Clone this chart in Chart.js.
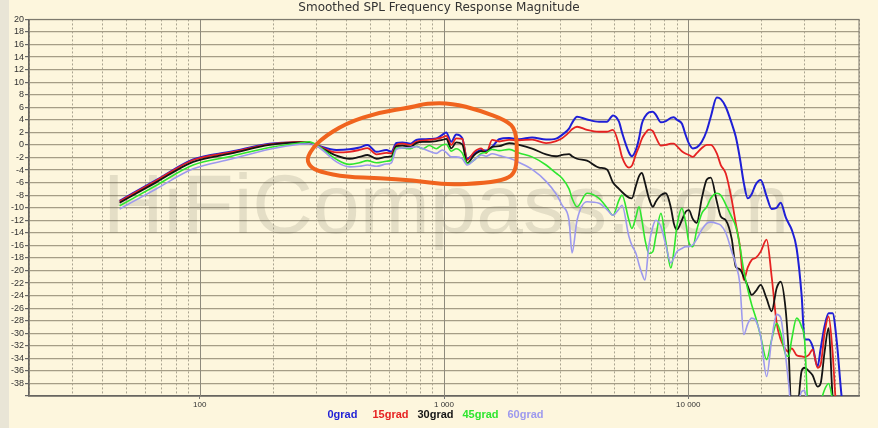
<!DOCTYPE html>
<html>
<head>
<meta charset="utf-8">
<title>Smoothed SPL Frequency Response Magnitude</title>
<script src="https://cdn.jsdelivr.net/npm/chart.js@4.4.1/dist/chart.umd.min.js"></script>
<style>
  html, body { margin: 0; padding: 0; background: #fdf6dd; }
  #wrap { width: 878px; height: 428px; }
</style>
</head>
<body>
<div id="wrap"><canvas id="splChart" width="878" height="428"></canvas></div>
<script>
// frequency points (Hz), shared by the five off-axis measurements
const freqHz = [
    47, 66, 94, 135, 193, 256, 281, 303, 363, 410, 451, 486,
    529, 581, 609, 638, 676, 730, 770, 820, 871, 930,
    984, 1021, 1071, 1122, 1188, 1245, 1330, 1420, 1488, 1575,
    1682, 1848, 2030, 2294, 2618, 2876, 3044, 3250, 3344, 3505,
    3850, 4312, 4648, 4918, 5204, 5353, 5716, 5878, 6104, 6282,
    6461, 6646, 6900, 7163, 7370, 7727, 8098, 8489, 8730, 8981,
    9412, 9774, 10056, 10440, 10840, 11362, 11911, 12366, 13087, 13588,
    14243, 15071, 15650, 16250, 16870, 17520, 18193, 18890, 19794, 20930,
    21951, 23014, 23894, 25050, 25760, 26504, 27776, 29120, 29940, 31100,
    32280, 33838, 34820, 36140, 37540, 38980, 40470, 42420, 44060
];

// SPL in dB per angle
const spl0 = [
    -8.9, -5.65, -2.3, -1.05, 0.2, 0.4, 0.3, -0.1, -0.8, -0.7, -0.4, 0.0,
    -1.1, -0.8, -1.1, 0.3, 0.4, 0.2, 0.8, 0.9, 0.95, 1.05,
    1.6, 2.0, 0.5, 1.65, 1.05, -2.2, -1.35, -0.8, -0.9, -0.3,
    0.9, 1.1, 0.9, 1.2, 0.85, 1.0, 1.6, 2.6, 3.5, 4.5,
    4.05, 3.7, 3.7, 4.7, 3.7, 2.0, -1.2, -1.8, -0.8, 1.0,
    3.4, 4.5, 5.2, 5.3, 4.8, 3.6, 3.8, 4.3, 4.4, 4.0,
    3.4, 1.5, 0.25, -0.55, -0.4, 0.5, 2.3, 4.5, 7.55, 7.3,
    6.05, 3.4, 1.3, -2.0, -6.0, -8.5, -7.8, -6.3, -5.6, -8.2,
    -10.2, -10.0, -9.2, -11.5, -12.5, -13.5, -16.5, -24, -31, -31.0,
    -32.1, -35.3, -32.5, -28.9, -26.8, -26.8, -31, -40, -45
];
const spl15 = [
    -9.0, -5.75, -2.4, -1.15, 0.1, 0.5, 0.4, -0.1, -1.2, -1.1, -0.8, -0.5,
    -1.5, -1.25, -1.35, 0.0, 0.2, 0.0, 0.5, 0.7, 0.8, 0.95,
    1.2, 1.45, 0.0, 1.05, 0.95, -2.4, -1.1, -0.55, -1.3, 0.8,
    0.55, 0.8, 0.75, 0.85, 0.3, 0.6, 1.05, 2.0, 2.5, 2.9,
    2.4, 2.1, 2.1, 2.4, 0.0, -1.9, -3.6, -3.3, -1.5, -0.3,
    1.0, 1.8, 2.45, 2.2, 1.2, -0.1, 0.0, 0.2, 0.2, -0.2,
    -1.0, -1.4, -1.6, -1.9, -1.3, -0.5, 0.0, 0.0, -1.35, -3.2,
    -4.55, -8.8, -12.5, -16.0, -21.5, -19.5, -18.3, -18.0, -17.0, -15.1,
    -21.0, -28.4, -31.0, -32.6, -33.0, -32.4, -33.5, -33.7, -33.8, -33.5,
    -32.6, -35.5, -35, -30, -27.3, -33, -42, -43, -45
];
const spl30 = [
    -9.2, -6.0, -2.7, -1.35, 0.0, 0.4, 0.3, -0.2, -1.7, -2.2, -1.9, -1.6,
    -2.2, -1.9, -1.8, -0.2, -0.1, -0.3, 0.3, 0.5, 0.5, 0.6,
    0.8, 0.95, -0.55, 0.4, 0.1, -2.9, -1.6, -1.0, -1.1, -0.3,
    -0.2, 0.3, 0.0, -0.6, -1.5, -1.8, -1.6, -1.45, -1.8, -2.2,
    -2.5, -3.6, -3.9, -6.0, -7.0, -7.5, -8.4, -8.5, -6.5, -5.0,
    -4.45, -6.0, -8.5, -9.85, -9.0, -8.0, -7.7, -10.0, -12.5, -13.5,
    -12.0, -10.6, -10.4, -11.8, -12.4, -8.5, -5.5, -5.2, -9.0, -11.4,
    -12.0, -15.0, -19.4, -19.8, -21.0, -22.5, -23.9, -23.3, -22.3, -24.5,
    -26.5, -22.8, -21.8, -26.3, -33.0, -43, -43, -36.0, -35.5, -36.0,
    -36.7, -38.5, -38, -33, -29.2, -40, -43, -43, -45
];
const spl45 = [
    -9.7, -6.5, -3.2, -1.8, -0.4, 0.3, 0.5, -0.1, -2.3, -3.1, -2.85, -2.5,
    -2.85, -2.6, -2.4, -0.5, -0.5, -0.6, -0.2, -0.6, -0.1, -0.6,
    0.0, 0.1, -1.0, -0.6, -1.3, -3.0, -2.4, -1.35, -1.2, -0.7,
    -0.9, -0.7, -1.3, -1.9, -3.2, -4.5, -5.3, -7.0, -8.5, -9.85,
    -7.7, -8.5, -10.0, -11.2, -8.8, -8.0, -12.0, -13.3, -11.5, -9.85,
    -12.0, -15.0, -17.3, -17.0, -14.5, -10.9, -15.5, -19.6, -17.0, -13.0,
    -10.1, -12.5, -15.5, -16.2, -13.5, -10.9, -9.85, -8.5, -7.7, -8.0,
    -9.5, -11.5, -13.0, -16.0, -20.0, -23.0, -25.5, -27.5, -30.5, -34.2,
    -31.0, -28.4, -30.0, -33.4, -33.7, -31.0, -27.6, -29.0, -31.0, -43,
    -43, -43, -41, -39, -38.0, -40.5, -43, -43, -45
];
const spl60 = [
    -10.2, -7.05, -3.8, -2.25, -0.7, 0.1, 0.2, -0.2, -2.7, -3.5, -3.4, -3.2,
    -3.4, -3.05, -2.85, -0.7, -0.5, -0.4, -0.3, -0.6, -1.0, -1.35,
    -0.8, -1.2, -1.9, -1.9, -2.2, -3.2, -2.4, -1.6, -1.8, -1.4,
    -1.7, -2.1, -2.8, -3.9, -5.8, -7.8, -9.6, -12.0, -17.2, -12.0,
    -9.05, -9.3, -10.3, -11.2, -10.2, -9.6, -14.6, -16.0, -17.25, -19.0,
    -20.5, -21.5, -16.0, -13.0, -12.0, -13.0, -16.0, -18.8, -18.0, -17.0,
    -16.5, -16.2, -16.2, -15.9, -15.0, -13.5, -12.5, -12.3, -12.5, -12.8,
    -14.0, -17.0, -19.0, -22.0, -30.2, -28.5, -27.6, -28.0, -30.5, -36.9,
    -31.0, -27.0, -27.5, -33.7, -38.0, -43, -42, -39.3, -39.1, -43,
    -43, -43, -43, -43, -43, -43, -43, -43, -45
];

const seriesLabels = ['0grad', '15grad', '30grad', '45grad', '60grad'];
const seriesColors = ['#1f1fd6', '#e62222', '#141414', '#2ee62e', '#9d99ee'];
const seriesWidths = [2, 1.8, 1.8, 1.6, 1.6];

// axes
const freqMin = 20, freqMax = 50000;
const dbMin = -40, dbMax = 20;
const decadeTicks = [100, 1000, 10000];
const decadeLabels = ['100', '1 000', '10 000'];

// the hand-drawn orange loop, in Hz / dB
const ringFreq = [274, 309, 399, 544, 742, 846, 1081, 1394, 1797, 1974, 1992, 1955, 1814, 1488, 1021, 742, 544, 399, 309, 281];
const ringDb = [-1.9, 0.8, 3.5, 5.2, 6.0, 6.65, 6.65, 5.5, 3.95, 2.35, -1.95, -4.3, -5.45, -6.05, -6.4, -5.6, -5.3, -5.1, -4.3, -3.4];

// 1-2-3..9 grid lines per decade
const gridFreqs = [];
[10, 100, 1000, 10000].forEach(d => {
    for (let k = 1; k < 10; k++) {
        const v = k * d;
        if (v >= freqMin && v <= freqMax) gridFreqs.push(v);
    }
});

const allSeries = [spl0, spl15, spl30, spl45, spl60];

const datasets = allSeries.map((vals, i) => ({
    label: seriesLabels[i],
    data: freqHz.map((f, j) => ({ x: f, y: vals[j] })),
    borderColor: seriesColors[i],
    borderWidth: seriesWidths[i],
    pointRadius: 0,
    fill: false,
    cubicInterpolationMode: 'monotone',
    clip: 0,
    order: allSeries.length - i
}));

const paperPlugin = {
    id: 'paper',
    beforeDraw(chart) {
        const { ctx, width, height } = chart;
        ctx.save();
        ctx.fillStyle = '#fdf6dd';
        ctx.fillRect(0, 0, width, height);
        ctx.fillStyle = '#e9e5d6';
        ctx.fillRect(0, 0, 9, height);
        ctx.restore();
    },
    beforeDatasetsDraw(chart) {
        const { ctx, chartArea: a, scales: { x } } = chart;
        ctx.save();
        // watermark
        ctx.font = '84px "Liberation Sans", Arial, sans-serif';
        ctx.fillStyle = 'rgba(90, 84, 66, 0.15)';
        ctx.textBaseline = 'alphabetic';
        ctx.fillText('HiFiCompass.com', 103, 233);
        // solid decade lines
        ctx.strokeStyle = '#8e8a7c';
        ctx.lineWidth = 1;
        decadeTicks.forEach(v => {
            const px = Math.round(x.getPixelForValue(v)) + 0.5;
            ctx.beginPath();
            ctx.moveTo(px, a.top);
            ctx.lineTo(px, a.bottom);
            ctx.stroke();
        });
        // frame
        ctx.strokeStyle = '#7a776c';
        ctx.strokeRect(a.left, a.top, a.right - a.left, a.bottom - a.top);
        ctx.restore();
    },
    afterDatasetsDraw(chart) {
        const { ctx, scales: { x, y } } = chart;
        const pts = ringFreq.map((f, i) => [x.getPixelForValue(f), y.getPixelForValue(ringDb[i])]);
        const n = pts.length;
        const mid = (p, q) => [(p[0] + q[0]) / 2, (p[1] + q[1]) / 2];
        ctx.save();
        ctx.beginPath();
        let m = mid(pts[n - 1], pts[0]);
        ctx.moveTo(m[0], m[1]);
        for (let i = 0; i < n; i++) {
            const p = pts[i];
            const mm = mid(p, pts[(i + 1) % n]);
            ctx.quadraticCurveTo(p[0], p[1], mm[0], mm[1]);
        }
        ctx.closePath();
        ctx.lineWidth = 4;
        ctx.lineJoin = 'round';
        ctx.strokeStyle = '#f0641e';
        ctx.stroke();
        ctx.restore();
    },
    afterDraw(chart) {
        // colored text legend under the axis
        const { ctx, chartArea: a } = chart;
        const slot = 45;
        const cx = (a.left + a.right) / 2;
        const sets = chart.data.datasets;
        const lx = cx - slot * sets.length / 2 - 4;
        ctx.save();
        ctx.font = 'bold 11px "Liberation Sans", Arial, sans-serif';
        ctx.textBaseline = 'middle';
        sets.forEach((ds, i) => {
            ctx.fillStyle = ds.borderColor;
            ctx.fillText(ds.label, lx + i * slot, 415);
        });
        ctx.restore();
    }
};

new Chart(document.getElementById('splChart'), {
    type: 'line',
    data: { datasets },
    plugins: [paperPlugin],
    options: {
        responsive: false,
        animation: false,
        layout: { padding: 0 },
        plugins: {
            legend: { display: false },
            tooltip: { enabled: false },
            title: {
                display: true,
                text: 'Smoothed SPL Frequency Response Magnitude',
                color: '#333333',
                font: { family: '"DejaVu Sans", Verdana, sans-serif', size: 12, weight: 'normal' },
                padding: { top: 1, bottom: 4 }
            }
        },
        scales: {
            x: {
                type: 'logarithmic',
                min: freqMin,
                max: freqMax,
                afterBuildTicks: s => { s.ticks = gridFreqs.map(v => ({ value: v })); },
                afterFit: s => { s.height = 32; },
                ticks: {
                    autoSkip: false,
                    maxRotation: 0,
                    padding: 1,
                    color: '#333',
                    font: { family: '"Liberation Sans", Arial, sans-serif', size: 8 },
                    callback: v => {
                        const i = decadeTicks.indexOf(v);
                        return i < 0 ? '' : decadeLabels[i];
                    }
                },
                grid: {
                    color: c => decadeTicks.includes(c.tick.value) ? 'transparent' : '#aaa490',
                    lineWidth: 1,
                    tickLength: 3,
                    tickColor: c => decadeTicks.includes(c.tick.value) ? '#777' : 'transparent'
                },
                border: { display: true, color: '#555', width: 1.5, dash: [2, 2] }
            },
            y: {
                min: dbMin,
                max: dbMax,
                afterFit: s => { s.width = 29; },
                ticks: {
                    stepSize: 2,
                    maxTicksLimit: 40,
                    autoSkip: false,
                    padding: 1,
                    color: '#333',
                    font: { family: '"Liberation Sans", Arial, sans-serif', size: 9 },
                    callback: v => v === dbMin ? '' : String(v)
                },
                grid: { color: '#a59d86', lineWidth: 1.2, tickLength: 4, tickColor: '#666' },
                border: { color: '#555', width: 1.5 }
            },
            yRight: {
                position: 'right',
                display: true,
                afterFit: s => { s.width = 19; },
                grid: { display: false, drawOnChartArea: false },
                ticks: { display: false },
                border: { display: false }
            }
        }
    }
});
</script>
</body>
</html>
